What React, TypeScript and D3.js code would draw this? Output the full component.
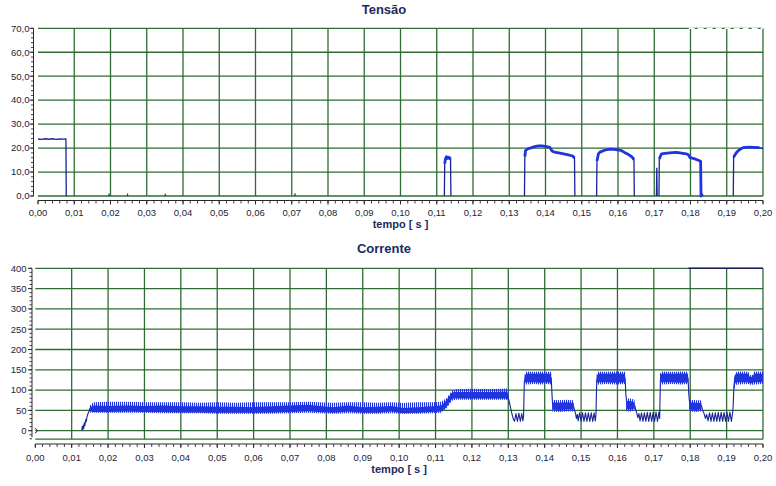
import React from "react";
import * as d3 from "d3";

// ---------- axis ticks ----------
const timeTicks = [0, 0.01, 0.02, 0.03, 0.04, 0.05, 0.06, 0.07, 0.08, 0.09, 0.1, 0.11, 0.12, 0.13, 0.14, 0.15, 0.16, 0.17, 0.18, 0.19, 0.2];
const timeTickLabels = ["0,00", "0,01", "0,02", "0,03", "0,04", "0,05", "0,06", "0,07", "0,08", "0,09", "0,10", "0,11", "0,12", "0,13", "0,14", "0,15", "0,16", "0,17", "0,18", "0,19", "0,20"];
const voltTicks = [0, 10, 20, 30, 40, 50, 60, 70];
const voltTickLabels = ["0,0", "10,0", "20,0", "30,0", "40,0", "50,0", "60,0", "70,0"];
const currTicks = [0, 50, 100, 150, 200, 250, 300, 350, 400];
const currTickLabels = ["0", "50", "100", "150", "200", "250", "300", "350", "400"];

const titles = ["Tensão", "Corrente"];
const xAxisTitle = "tempo [ s ]";

// ---------- Tensão (voltage) data: [t, v] ----------
const voltPulse0: [number, number][] = [
  [0, 23.8], [0.001, 23.6], [0.002, 23.9], [0.003, 23.7], [0.004, 23.9], [0.005, 23.6], [0.006, 23.8], [0.007, 23.7], [0.0077, 23.8], [0.0078, 0],
];
const voltPulse1: [number, number][] = [
  [0.1121, 0], [0.1122, 13.5], [0.1124, 15.6], [0.1127, 16.4], [0.113, 15.7], [0.1133, 16.2], [0.1136, 15.6], [0.1138, 15.9], [0.1139, 0],
];
const voltPulse2: [number, number][] = [
  [0.1342, 0], [0.1343, 16.5], [0.1345, 19.0], [0.135, 19.6], [0.136, 20.1], [0.137, 20.6], [0.138, 20.9], [0.139, 20.9], [0.14, 20.7], [0.1412, 20.3],
  [0.1418, 18.8], [0.1425, 18.3], [0.144, 17.9], [0.146, 17.3], [0.1475, 16.7], [0.148, 15.8], [0.1481, 0],
];
const voltPulse3: [number, number][] = [
  [0.1541, 0], [0.1542, 14.6], [0.1546, 17.6], [0.155, 18.3], [0.1565, 19.2], [0.1578, 19.6], [0.159, 19.5], [0.1602, 19.2], [0.161, 18.9],
  [0.1618, 18.2], [0.1628, 17.4], [0.1638, 16.4], [0.1644, 15.2], [0.1645, 0],
];
const voltPulse4a: [number, number][] = [
  [0.1706, 0], [0.1707, 11.8], [0.1708, 0],
];
const voltPulse4: [number, number][] = [
  [0.1713, 0], [0.1714, 15.5], [0.1717, 16.6], [0.172, 17.6], [0.1735, 17.9], [0.175, 18.1], [0.1762, 18.2], [0.1775, 17.9], [0.1788, 17.6],
  [0.1794, 17.2], [0.1799, 16.0], [0.181, 15.6], [0.182, 15.0], [0.1828, 14.5], [0.1829, 0], [0.1833, 0.6], [0.1834, 0],
];
const voltPulse5: [number, number][] = [
  [0.1918, 0], [0.1919, 16.2], [0.1922, 17.0], [0.1927, 18.2], [0.1935, 19.3], [0.1945, 20.2], [0.196, 20.4], [0.1975, 20.3], [0.199, 20.2], [0.2, 19.8],
];
const voltPulses = [voltPulse0, voltPulse1, voltPulse2, voltPulse3, voltPulse4a, voltPulse4, voltPulse5];
const voltBlips: [number, number][] = [[0.0196, 1.0], [0.0247, 1.0], [0.0351, 0.9], [0.0709, 1.1]];

// ---------- Corrente (current) data ----------
// centre trace [t, i]
const currTrace: [number, number][] = [
  [0.0128, 1], [0.0129, 10], [0.013, 2], [0.0132, 14], [0.0133, 5], [0.0135, 20], [0.0136, 12], [0.0139, 28], [0.014, 22], [0.0143, 38],
  [0.0146, 44], [0.0149, 52], [0.0152, 58], [0.0156, 56], [0.016, 54], [0.03, 54], [0.06, 52], [0.09, 52], [0.1115, 54], [0.1145, 86], [0.1298, 88],
  [0.1303, 70], [0.1309, 45], [0.1314, 28], [0.1317, 23], [0.1321, 42], [0.1325, 23], [0.1329, 43], [0.1333, 23], [0.1337, 42], [0.134, 24],
  [0.1342, 35], [0.1344, 120], [0.1347, 130], [0.1418, 130], [0.142, 90], [0.1422, 62], [0.1479, 62],
  [0.1482, 50], [0.1485, 42], [0.1487, 30], [0.149, 40], [0.1492, 24], [0.1496, 44], [0.15, 23], [0.1504, 44], [0.1508, 23], [0.1512, 44],
  [0.1516, 23], [0.152, 44], [0.1524, 23], [0.1528, 44], [0.1532, 23], [0.1536, 44], [0.1539, 24], [0.1541, 40], [0.1543, 125], [0.1546, 130],
  [0.1621, 130], [0.1623, 90], [0.1626, 64], [0.1647, 64],
  [0.165, 52], [0.1653, 44], [0.1656, 32], [0.1659, 42], [0.1662, 24], [0.1666, 44], [0.167, 23], [0.1674, 44], [0.1678, 23], [0.1682, 45],
  [0.1686, 23], [0.169, 45], [0.1694, 23], [0.1698, 45], [0.1702, 23], [0.1706, 46], [0.171, 23], [0.1714, 46], [0.1716, 30], [0.1718, 125],
  [0.1721, 130], [0.1794, 130], [0.1796, 90], [0.1799, 62], [0.1831, 62],
  [0.1834, 50], [0.1838, 42], [0.1842, 30], [0.1845, 40], [0.1849, 24], [0.1853, 44], [0.1857, 23], [0.1861, 44], [0.1865, 23], [0.1869, 44],
  [0.1873, 23], [0.1877, 45], [0.1881, 23], [0.1885, 45], [0.1889, 23], [0.1893, 45], [0.1897, 23], [0.1901, 45], [0.1905, 23], [0.1909, 46],
  [0.1913, 23], [0.1916, 40], [0.1918, 60], [0.192, 110], [0.1923, 128], [0.2, 130],
];

// noisy envelopes [t, outerLo, outerHi, coreLo, coreHi]
type Env = [number, number, number, number, number];
const lowBand: Env[] = [
  [0.015, 45, 62, 48, 58], [0.016, 44, 70, 46, 62], [0.02, 44, 71, 46, 61], [0.025, 44, 71, 47, 62], [0.03, 44, 70, 46, 61],
  [0.035, 43, 70, 46, 62], [0.04, 43, 70, 45, 60], [0.045, 43, 69, 45, 60], [0.05, 42, 70, 44, 59], [0.055, 42, 69, 44, 59],
  [0.06, 42, 70, 44, 58], [0.065, 42, 70, 45, 60], [0.07, 43, 70, 46, 62], [0.075, 44, 71, 48, 64], [0.078, 43, 70, 46, 61],
  [0.082, 42, 69, 44, 58], [0.086, 43, 70, 47, 62], [0.09, 42, 70, 44, 58], [0.094, 42, 69, 44, 59], [0.098, 43, 70, 47, 61],
  [0.101, 42, 68, 43, 56], [0.105, 42, 70, 44, 58], [0.109, 43, 70, 46, 60], [0.1115, 44, 71, 47, 62], [0.113, 55, 80, 58, 75],
  [0.1145, 74, 98, 78, 94], [0.1155, 76, 102, 80, 95], [0.12, 76, 103, 79, 95], [0.125, 76, 102, 79, 95], [0.1295, 76, 104, 79, 96],
  [0.13, 72, 100, 76, 92],
];
const hiBand1: Env[] = [
  [0.1345, 112, 140, 118, 136], [0.135, 114, 146, 119, 141], [0.137, 115, 145, 119, 140], [0.139, 114, 146, 118, 141], [0.1405, 115, 145, 119, 140], [0.1418, 114, 145, 118, 140],
];
const midBand1: Env[] = [[0.1421, 47, 76, 52, 70], [0.144, 46, 75, 51, 69], [0.146, 47, 76, 52, 70], [0.148, 48, 75, 53, 68]];
const hiBand2: Env[] = [
  [0.1543, 112, 140, 118, 136], [0.1548, 114, 146, 119, 141], [0.157, 115, 145, 119, 140], [0.1595, 114, 146, 118, 141], [0.1621, 115, 145, 119, 140],
];
const midBand2: Env[] = [[0.1624, 48, 80, 53, 74], [0.1635, 47, 79, 52, 73], [0.1647, 49, 76, 54, 70]];
const hiBand3: Env[] = [
  [0.1717, 112, 140, 118, 136], [0.1722, 114, 146, 119, 141], [0.175, 115, 145, 119, 140], [0.1775, 114, 146, 118, 141], [0.1794, 115, 145, 119, 140],
];
const midBand3: Env[] = [[0.1797, 47, 76, 52, 70], [0.1815, 46, 75, 51, 69], [0.1831, 48, 75, 53, 68]];
const hiBand4: Env[] = [
  [0.192, 100, 128, 105, 125], [0.1924, 112, 143, 117, 139], [0.193, 114, 146, 119, 141], [0.196, 115, 145, 119, 140], [0.1963, 113, 137, 117, 133],
  [0.1972, 113, 137, 117, 133], [0.1975, 114, 146, 119, 141], [0.2, 115, 145, 119, 140],
];
const currBands = [lowBand, hiBand1, midBand1, hiBand2, midBand2, hiBand3, midBand3, hiBand4];
const cornerSpan = [0.1795, 0.2];

// ---------- styles ----------
const FONT = "'Liberation Sans', Arial, sans-serif";
const GRID = "#2f6c33";
const AXIS = "#2a2a2a";
const LABEL = "#1e2438";
const TITLE = "#1d2a5e";
const NAVY = "#1a2496";
const BLUE = "#1f34dc";

type PanelCfg = {
  x0: number; x1: number; yTop: number; yBot: number; yDomain: [number, number];
  yAxisX: number; xAxisY: number; tickY: number; xTitleY: number; titleY: number;
  yTicks: number[]; yTickLabels: string[]; yMinorStep: number; labelX: number;
};

const topCfg: PanelCfg = {
  x0: 38, x1: 763, yTop: 28.3, yBot: 196, yDomain: [0, 70], yAxisX: 33.5, xAxisY: 200.5, tickY: 215.5,
  xTitleY: 228, titleY: 14, yTicks: voltTicks, yTickLabels: voltTickLabels, yMinorStep: 2, labelX: 29.5,
};
const botCfg: PanelCfg = {
  x0: 35.3, x1: 763, yTop: 268.3, yBot: 439.2, yDomain: [-21, 400], yAxisX: 32, xAxisY: 444, tickY: 460.5,
  xTitleY: 473, titleY: 253, yTicks: currTicks, yTickLabels: currTickLabels, yMinorStep: 10, labelX: 26.5,
};

function Frame({ cfg, title, x, y }: { cfg: PanelCfg; title: string; x: d3.ScaleLinear<number, number>; y: d3.ScaleLinear<number, number> }) {
  const minorX = d3.range(0, 0.2001, 0.002);
  const minorY = d3.range(cfg.yDomain[0] < 0 ? -20 : 0, cfg.yDomain[1] + 0.001, cfg.yMinorStep);
  const cx = (cfg.x0 + cfg.x1) / 2;
  return (
    <g>
      {/* grid */}
      {timeTicks.slice(1).map((t) => (
        <line key={"gv" + t} x1={x(t)} x2={x(t)} y1={cfg.yTop} y2={cfg.yBot} stroke={GRID} strokeWidth={1.3} />
      ))}
      {cfg.yTicks.map((v) => (
        <line key={"gh" + v} x1={cfg.x0} x2={cfg.x1} y1={y(v)} y2={y(v)} stroke={GRID} strokeWidth={1.3} />
      ))}
      {cfg.yDomain[0] < 0 && (
        <line x1={cfg.x0} x2={cfg.x1} y1={cfg.yBot} y2={cfg.yBot} stroke={GRID} strokeWidth={1.3} />
      )}
      {/* y axis */}
      <line x1={cfg.yAxisX} x2={cfg.yAxisX} y1={cfg.yTop} y2={cfg.yBot - (cfg.yDomain[0] < 0 ? 2 : 0)} stroke={AXIS} strokeWidth={1} />
      {minorY.map((v) => (
        <line key={"my" + v} x1={cfg.yAxisX - 2.5} x2={cfg.yAxisX} y1={y(v)} y2={y(v)} stroke={AXIS} strokeWidth={0.9} />
      ))}
      {cfg.yTicks.map((v, i) => (
        <g key={"ty" + v}>
          <line x1={cfg.yAxisX - 4} x2={cfg.yAxisX} y1={y(v)} y2={y(v)} stroke={AXIS} strokeWidth={1} />
          <text x={cfg.labelX} y={y(v)} dy="0.35em" textAnchor="end" fontFamily={FONT} fontSize={9.5} fill={LABEL}>
            {cfg.yTickLabels[i]}
          </text>
        </g>
      ))}
      {/* x axis */}
      <line x1={cfg.x0} x2={cfg.x1} y1={cfg.xAxisY} y2={cfg.xAxisY} stroke={AXIS} strokeWidth={1} />
      {minorX.map((t) => (
        <line key={"mx" + t} x1={x(t)} x2={x(t)} y1={cfg.xAxisY} y2={cfg.xAxisY + 3} stroke={AXIS} strokeWidth={0.9} />
      ))}
      {timeTicks.map((t, i) => (
        <g key={"tx" + t}>
          <line x1={x(t)} x2={x(t)} y1={cfg.xAxisY} y2={cfg.xAxisY + 4} stroke={AXIS} strokeWidth={1} />
          <text x={x(t)} y={cfg.tickY} textAnchor="middle" fontFamily={FONT} fontSize={9.5} fill={LABEL}>
            {timeTickLabels[i]}
          </text>
        </g>
      ))}
      <text x={cx} y={cfg.xTitleY} textAnchor="middle" fontFamily={FONT} fontSize={11} fontWeight="bold" fill={TITLE}>
        {xAxisTitle}
      </text>
      <text x={384} y={cfg.titleY} textAnchor="middle" fontFamily={FONT} fontSize={13} fontWeight="bold" fill={TITLE}>
        {title}
      </text>
    </g>
  );
}

export default function App() {
  const xT = d3.scaleLinear().domain([0, 0.2]).range([topCfg.x0, topCfg.x1]);
  const yT = d3.scaleLinear().domain(topCfg.yDomain).range([topCfg.yBot, topCfg.yTop]);
  const xB = d3.scaleLinear().domain([0, 0.2]).range([botCfg.x0, botCfg.x1]);
  const yB = d3.scaleLinear().domain(botCfg.yDomain).range([botCfg.yBot, botCfg.yTop]);

  const vLine = d3.line<[number, number]>().x((d) => xT(d[0])).y((d) => yT(d[1]));
  const cLine = d3.line<[number, number]>().x((d) => xB(d[0])).y((d) => yB(d[1]));
  const outerArea = d3.area<Env>().x((d) => xB(d[0])).y0((d) => yB(d[1])).y1((d) => yB(d[2]));
  const coreArea = d3.area<Env>().x((d) => xB(d[0])).y0((d) => yB(d[3])).y1((d) => yB(d[4]));

  return (
    <svg width={776} height={486} style={{ position: "absolute", left: 0, top: 0, background: "#fff" }}>
      <defs>
        <pattern id="comb" width={2} height={8} patternUnits="userSpaceOnUse">
          <rect x={0} y={0} width={1.1} height={8} fill={BLUE} />
        </pattern>
      </defs>
      <rect x={0} y={0} width={776} height={486} fill="#fff" />

      {/* ---------- Tensão ---------- */}
      <Frame cfg={topCfg} title={titles[0]} x={xT} y={yT} />
      <line x1={xT(cornerSpan[0])} x2={xT(cornerSpan[1])} y1={yT(70)} y2={yT(70)} stroke="#fff" strokeWidth={1.2} strokeDasharray="6 3" />
      {voltBlips.map((d) => (
        <line key={"b" + d[0]} x1={xT(d[0])} x2={xT(d[0])} y1={yT(0)} y2={yT(d[1])} stroke={NAVY} strokeWidth={1.2} />
      ))}
      {voltPulses.map((p, i) => (
        <g key={"vp" + i}>
          <path d={vLine(p) || ""} fill="none" stroke={NAVY} strokeWidth={1.3} />
          {i > 0 && p.length > 3 && (
            <path d={vLine(p.slice(1, p.length - 1)) || ""} fill="none" stroke={BLUE} strokeWidth={2.8} strokeLinejoin="round" />
          )}
        </g>
      ))}

      {/* ---------- Corrente ---------- */}
      <Frame cfg={botCfg} title={titles[1]} x={xB} y={yB} />
      <line x1={xB(cornerSpan[0])} x2={xB(cornerSpan[1])} y1={yB(400)} y2={yB(400)} stroke="#1c1f5a" strokeWidth={1.4} />
      <path d={`M${xB(0) - 0.5},${yB(0) - 2.5} L${xB(0) + 2.5},${yB(0)} L${xB(0) - 0.5},${yB(0) + 2.5}`} fill="none" stroke={NAVY} strokeWidth={1} />
      <path d={cLine(currTrace) || ""} fill="none" stroke={NAVY} strokeWidth={1.1} strokeLinejoin="round" />
      {currBands.map((b, i) => (
        <g key={"cb" + i}>
          <path d={outerArea(b) || ""} fill="url(#comb)" />
          <path d={coreArea(b) || ""} fill={BLUE} />
        </g>
      ))}
    </svg>
  );
}
